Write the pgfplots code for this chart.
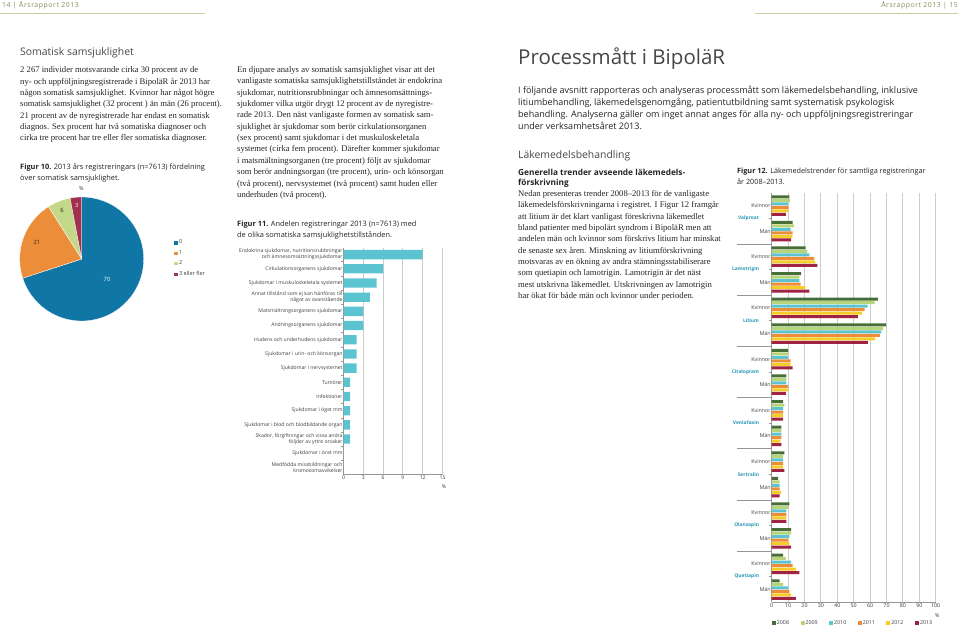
\documentclass[border=0pt]{standalone}
\usepackage{fontspec}
\setmainfont{Liberation Serif}
\newfontfamily\sansf{Open Sans}
\usepackage{pgfplots}
\pgfplotsset{compat=1.18}
\usepackage{pgfplotstable}

\definecolor{txt}{RGB}{35,35,35}
\definecolor{head}{RGB}{70,70,70}
\definecolor{hdr}{RGB}{130,140,90}
\definecolor{hdrline}{RGB}{205,205,165}
\definecolor{pieA}{RGB}{16,118,166}
\definecolor{pieB}{RGB}{236,141,58}
\definecolor{pieC}{RGB}{196,216,138}
\definecolor{pieD}{RGB}{162,48,80}
\definecolor{bar11}{RGB}{92,196,209}
\definecolor{c08}{RGB}{72,110,55}
\definecolor{c09}{RGB}{184,212,120}
\definecolor{c10}{RGB}{92,196,209}
\definecolor{c11}{RGB}{236,141,58}
\definecolor{c12}{RGB}{246,205,40}
\definecolor{c13}{RGB}{160,35,65}
\definecolor{drug}{RGB}{40,150,180}
\definecolor{gridc}{RGB}{205,205,205}
\definecolor{axc}{RGB}{150,150,150}
\definecolor{lab}{RGB}{60,60,60}

\newcommand\fs[2]{\fontsize{#1pt}{#2pt}\selectfont}
\newcommand\drugfont{\sansf\bfseries\fs{4.9}{6}}

\pgfplotstableread{
i v
1 12
2 6
3 5
4 4
5 3
6 3
7 2
8 2
9 2
10 1
11 1
12 1
13 1
14 1
15 0
16 0
}\tabSom

\pgfplotstableread{
g y08 y09 y10 y11 y12 y13
0.5 10.8 11 10.2 10.2 9.8 8.7
1.5 12.8 13.6 11.6 12.8 12.6 11.8
2.5 20.7 21.7 23 25.8 26.6 27.8
3.5 17.9 16.9 16.9 17.7 20.5 23
4.5 64.8 62.8 58.5 56.7 55.1 52.6
5.5 69.7 67.9 66.9 65.9 63 58.7
6.5 10 10 10 11.6 11.6 12.8
7.5 8.9 8.9 8.9 10 10 8.7
8.5 6.9 7.7 6.9 6.9 6.9 6.9
9.5 5.9 5.9 5.9 5.9 5.3 5.9
10.5 7.7 6.9 6.9 6.9 6.9 7.7
11.5 3.9 4.9 4.9 4.9 5.7 4.9
12.5 10.8 9.8 8.9 8.9 8.9 8.9
13.5 11.8 11.8 10.8 9.8 10.8 11.8
14.5 6.9 8.7 11.8 12.8 14.8 16.9
15.5 4.9 6.9 9.8 10.8 11.8 14.8
}\tabLak

\begin{document}
\begin{tikzpicture}
\useasboundingbox (0pt,0pt) rectangle (960pt,-626pt);

\begin{scope}[x=1pt,y=-1pt]
% ---------- headers ----------
\node[anchor=base west,inner sep=0pt,text=hdr,font=\sansf\addfontfeature{LetterSpace=8}\fs{6.9}{7}] at (2,8) {14 | Årsrapport 2013};
\node[anchor=base east,inner sep=0pt,text=hdr,font=\sansf\addfontfeature{LetterSpace=8}\fs{6.9}{7}] at (958,8) {Årsrapport 2013 | 15};
\draw[hdrline,line width=0.8pt] (0,13.3) -- (205,13.3);
\draw[hdrline,line width=0.8pt] (755,13.3) -- (958,13.3);

% ---------- left page ----------
\node[anchor=base west,inner sep=0pt,text=head,font=\sansf\fs{10.4}{12}] at (20,56) {Somatisk samsjuklighet};

\begin{scope}[every node/.style={anchor=base west,inner sep=0pt,text=txt,font=\fs{8.64}{11}}]
\node at (20,73) {2 267 individer motsvarande cirka 30 procent av de};
\node at (20,84.3) {ny- och uppföljningsregistrerade i BipoläR år 2013 har};
\node at (20,95.6) {någon somatisk samsjuklighet. Kvinnor har något högre};
\node at (20,106.9) {somatisk samsjuklighet (32 procent ) än män (26 procent).};
\node at (20,118.2) {21 procent av de nyregistrerade har endast en somatisk};
\node at (20,129.5) {diagnos. Sex procent har två somatiska diagnoser och};
\node at (20,140.8) {cirka tre procent har tre eller fler somatiska diagnoser.};

\node at (237,72.5) {En djupare analys av somatisk samsjuklighet visar att det};
\node at (237,83.85) {vanligaste somatiska samsjuklighetstillståndet är endokrina};
\node at (237,95.2) {sjukdomar, nutritionsrubbningar och ämnesomsättnings-};
\node at (237,106.55) {sjukdomer vilka utgör drygt 12 procent av de nyregistre-};
\node at (237,117.9) {rade 2013. Den näst vanligaste formen av somatisk sam-};
\node at (237,129.25) {sjuklighet är sjukdomar som berör cirkulationsorganen};
\node at (237,140.6) {(sex procent) samt sjukdomar i det muskuloskeletala};
\node at (237,151.95) {systemet (cirka fem procent). Därefter kommer sjukdomar};
\node at (237,163.3) {i matsmältningsorganen (tre procent) följt av sjukdomar};
\node at (237,174.65) {som berör andningsorgan (tre procent), urin- och könsorgan};
\node at (237,186) {(två procent), nervsystemet (två procent) samt huden eller};
\node at (237,197.35) {underhuden (två procent).};

\node at (518,196.5) {Nedan presenteras trender 2008–2013 för de vanligaste};
\node at (518,207.85) {läkemedelsförskrivningarna i registret. I Figur 12 framgår};
\node at (518,219.2) {att litium är det klart vanligast föreskrivna läkemedlet};
\node at (518,230.55) {bland patienter med bipolärt syndrom i BipoläR men att};
\node at (518,241.9) {andelen män och kvinnor som förskrivs litium har minskat};
\node at (518,253.25) {de senaste sex åren. Minskning av litiumförskrivning};
\node at (518,264.6) {motsvaras av en ökning av andra stämningsstabiliserare};
\node at (518,275.95) {som quetiapin och lamotrigin. Lamotrigin är det näst};
\node at (518,287.3) {mest utskrivna läkemedlet. Utskrivningen av lamotrigin};
\node at (518,298.65) {har ökat för både män och kvinnor under perioden.};
\end{scope}

% captions
\begin{scope}[every node/.style={anchor=base west,inner sep=0pt,text=txt,font=\sansf\fs{7.4}{9}}]
\node at (20,169.3) {\textbf{Figur 10.} 2013 års registreringars (n=7613) fördelning};
\node at (20,180.3) {över somatisk samsjuklighet.};
\node at (237,226.8) {\textbf{Figur 11.} Andelen registreringar 2013 (n=7613) med};
\node at (237,237.8) {de olika somatiska samsjuklighetstillstånden.};
\end{scope}
\begin{scope}[every node/.style={anchor=base west,inner sep=0pt,text=txt,font=\sansf\fs{7.25}{9}}]
\node at (737,173.8) {\textbf{Figur 12.} Läkemedelstrender för samtliga registreringar};
\node at (737,184.8) {år 2008–2013.};
\end{scope}

% ---------- right page text ----------
\node[anchor=base west,inner sep=0pt,text=head,font=\sansf\fs{20.5}{24}] at (518,64) {Processmått i BipoläR};
\begin{scope}[every node/.style={anchor=base west,inner sep=0pt,text=txt,font=\sansf\fs{9.03}{12}}]
\node at (518,93) {I följande avsnitt rapporteras och analyseras processmått som läkemedelsbehandling, inklusive};
\node at (518,105) {litiumbehandling, läkemedelsgenomgång, patientutbildning samt systematisk psykologisk};
\node at (518,117) {behandling. Analyserna gäller om inget annat anges för alla ny- och uppföljningsregistreringar};
\node at (518,129) {under verksamhetsåret 2013.};
\end{scope}
\node[anchor=base west,inner sep=0pt,text=head,font=\sansf\fs{10.4}{12}] at (518,158.5) {Läkemedelsbehandling};
\node[anchor=base west,inner sep=0pt,text=txt,font=\sansf\bfseries\fs{8.3}{10}] at (518,175) {Generella trender avseende läkemedels-};
\node[anchor=base west,inner sep=0pt,text=txt,font=\sansf\bfseries\fs{8.3}{10}] at (518,185.5) {förskrivning};

\node[text=lab,font=\sansf\fs{5.5}{6}] at (81.5,189) {\%};
\node[text=lab,font=\sansf\fs{5.1}{6}] at (444,487) {\%};
\node[text=lab,font=\sansf\fs{5.3}{6}] at (937.3,615.7) {\%};
\end{scope}

% ---------- Figure 10: pie ----------
\begin{axis}[
  at={(81.7pt,-259pt)}, anchor=center, scale only axis,
  width=124pt, height=124pt,
  xmin=-62, xmax=62, ymin=-62, ymax=62,
  hide axis, clip=false,
  legend style={at={(1.236,0.665)}, anchor=north west, draw=none, fill=none,
    font=\sansf\fs{5.5}{6}, text=lab, row sep=2.5pt, inner sep=0pt,
    nodes={inner sep=1.2pt}},
  legend cell align=left,
  legend image code/.code={\fill[#1] (0pt,-2.2pt) rectangle (4.4pt,2.2pt);},
]
\addplot[fill=pieA, draw=white, line width=0.3pt, data cs=polar, domain=-162:90, samples=90] ({x},{62}) -- (axis cs:0,0) -- cycle;
\addplot[fill=pieB, draw=white, line width=0.3pt, data cs=polar, domain=122.4:198, samples=30] ({x},{62}) -- (axis cs:0,0) -- cycle;
\addplot[fill=pieC, draw=white, line width=0.3pt, data cs=polar, domain=100.8:122.4, samples=12] ({x},{62}) -- (axis cs:0,0) -- cycle;
\addplot[fill=pieD, draw=white, line width=0.3pt, data cs=polar, domain=90:100.8, samples=8] ({x},{62}) -- (axis cs:0,0) -- cycle;
\legend{0,1,2,3 eller fler}
\node[font=\sansf\fs{5.8}{6},text=white] at (axis cs:25.3,-20) {70};
\node[font=\sansf\fs{5.8}{6},text=txt] at (axis cs:-44.7,17) {21};
\node[font=\sansf\fs{5.8}{6},text=txt] at (axis cs:-19.7,49) {6};
\node[font=\sansf\fs{5.8}{6},text=white] at (axis cs:-5,54) {3};
\end{axis}

% ---------- Figure 11: horizontal bars ----------
\begin{axis}[
  at={(343.5pt,-474.5pt)}, anchor=south west, scale only axis,
  width=99pt, height=227pt,
  xmin=0, xmax=15, ymin=0.5, ymax=16.5, y dir=reverse,
  xtick={0,3,...,15}, ytick={1,...,16},
  yticklabels={{Endokrina sjukdomar, nutritionsrubbningar\\och ämnesomsättningssjukdomar},
    Cirkulationsorganens sjukdomar,
    Sjukdomar i muskuloskeletala systemet,
    Annat tillstånd som ej kan hänföras till\\något av ovanstående,
    Matsmältningsorganens sjukdomar,
    Andningsorganens sjukdomar,
    Hudens och underhudens sjukdomar,
    Sjukdomar i urin- och könsorgan,
    Sjukdomar i nervsystemet,
    Tumörer, Infektioner, Sjukdomar i ögat mm,
    Sjukdomar i blod och blodbildande organ,
    {Skador, förgiftningar och vissa andra\\följder av yttre orsaker},
    Sjukdomar i örat mm,
    Medfödda missbildningar och\\kromosomavvikelser},
  minor ytick={1.5,2.5,...,15.5},
  axis x line*=bottom, axis y line*=left, axis line style={axc,-,line width=0.6pt},
  xmajorgrids, grid style={gridc,line width=0.9pt},
  major tick length=0pt, minor tick length=2.5pt, tick align=outside,
  minor tick style={axc,line width=0.5pt},
  /pgf/number format/assume math mode=true,
  ticklabel style={font=\sansf\fs{5.1}{6}, text=lab},
  yticklabel style={align=right, inner sep=0.8pt},
  xticklabel style={inner sep=1pt},
]
\addplot[xbar, bar width=9.3pt, fill=bar11, draw=none] table[x=v,y=i]{\tabSom};
\end{axis}

% ---------- Figure 12: grouped horizontal bars ----------
\begin{axis}[
  at={(771.7pt,-602.3pt)}, anchor=south west, scale only axis,
  width=164pt, height=409.6pt,
  xmin=0, xmax=100, ymin=0, ymax=16, y dir=reverse,
  xtick={0,10,...,100},
  ytick={0.5,1.5,...,15.5},
  yticklabels={Kvinnor,Män,Kvinnor,Män,Kvinnor,Män,Kvinnor,Män,Kvinnor,Män,Kvinnor,Män,Kvinnor,Män,Kvinnor,Män},
  extra y ticks={2,4,...,14}, extra y tick labels={},
  extra y tick style={major tick length=34.7pt, tick style={axc,line width=0.6pt}},
  minor ytick={1,3,...,15},
  axis x line*=bottom, axis y line*=left, axis line style={axc,-,line width=0.6pt},
  xmajorgrids, grid style={gridc,line width=0.9pt},
  major tick length=0pt, minor tick length=3pt, tick align=outside,
  minor tick style={axc,line width=0.5pt},
  /pgf/number format/assume math mode=true,
  ticklabel style={font=\sansf\fs{5.3}{6}, text=lab},
  yticklabel style={inner sep=1pt},
  xticklabel style={inner sep=1.5pt},
  clip=false,
  legend columns=6,
  legend style={at={(0,-0.0505)}, anchor=west, draw=none, fill=none,
    font=\sansf\fs{5.3}{6}, text=lab, inner sep=0pt,
    nodes={inner sep=1pt},
    /tikz/every even column/.append style={column sep=10.5pt}},
  legend image code/.code={\fill[#1] (0pt,-2pt) rectangle (4pt,2pt);},
]
\addplot[xbar, bar width=3pt, bar shift=8.75pt, fill=c08, draw=none] table[x=y08,y=g]{\tabLak};
\addplot[xbar, bar width=3pt, bar shift=5.25pt, fill=c09, draw=none] table[x=y09,y=g]{\tabLak};
\addplot[xbar, bar width=3pt, bar shift=1.75pt, fill=c10, draw=none] table[x=y10,y=g]{\tabLak};
\addplot[xbar, bar width=3pt, bar shift=-1.75pt, fill=c11, draw=none] table[x=y11,y=g]{\tabLak};
\addplot[xbar, bar width=3pt, bar shift=-5.25pt, fill=c12, draw=none] table[x=y12,y=g]{\tabLak};
\addplot[xbar, bar width=3pt, bar shift=-8.75pt, fill=c13, draw=none] table[x=y13,y=g]{\tabLak};
\legend{2008,2009,2010,2011,2012,2013}
\node[anchor=east, xshift=-12.5pt, inner sep=0pt, text=drug, font=\drugfont] at (axis cs:0,1) {Valproat};
\node[anchor=east, xshift=-12.5pt, inner sep=0pt, text=drug, font=\drugfont] at (axis cs:0,3) {Lamotrigin};
\node[anchor=east, xshift=-12.5pt, inner sep=0pt, text=drug, font=\drugfont] at (axis cs:0,5) {Litium};
\node[anchor=east, xshift=-12.5pt, inner sep=0pt, text=drug, font=\drugfont] at (axis cs:0,7) {Citalopram};
\node[anchor=east, xshift=-12.5pt, inner sep=0pt, text=drug, font=\drugfont] at (axis cs:0,9) {Venlafaxin};
\node[anchor=east, xshift=-12.5pt, inner sep=0pt, text=drug, font=\drugfont] at (axis cs:0,11) {Sertralin};
\node[anchor=east, xshift=-12.5pt, inner sep=0pt, text=drug, font=\drugfont] at (axis cs:0,13) {Olanzapin};
\node[anchor=east, xshift=-12.5pt, inner sep=0pt, text=drug, font=\drugfont] at (axis cs:0,15) {Quetiapin};
\end{axis}

\end{tikzpicture}
\end{document}
